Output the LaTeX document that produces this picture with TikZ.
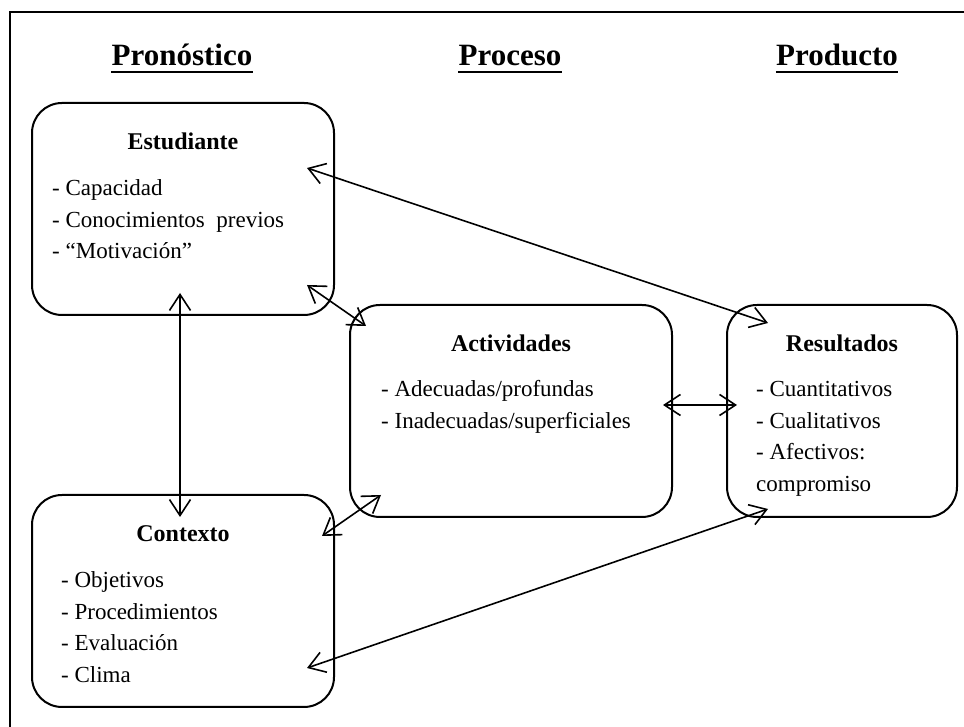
\documentclass[tikz,border=0pt]{standalone}
\usepackage{fontspec}
\setmainfont{Liberation Serif}
\usetikzlibrary{arrows.meta,positioning,calc}

\newcommand{\headfont}{\fontsize{31}{37}\selectfont\bfseries}
\newcommand{\titlefont}{\fontsize{24}{29}\selectfont\bfseries}
\newcommand{\itemfont}{\fontsize{23}{31}\selectfont}

\begin{document}
\begin{tikzpicture}[x=1pt,y=1pt,
  box/.style={draw, line width=2pt, rounded corners=30pt, inner sep=0pt, outer sep=0pt, minimum height=212pt},
  heading/.style={font=\headfont, inner sep=0pt, anchor=base},
  boxtitle/.style={font=\titlefont, inner sep=0pt, anchor=base},
  item/.style={font=\itemfont, inner sep=0pt, text height=17pt, text depth=14pt},
  uline/.style={line width=2.6pt},
  link/.style={line width=1.6pt, {Straight Barb[length=16pt,width=21pt]}-{Straight Barb[length=16pt,width=21pt]}}]
  \useasboundingbox (0,0) rectangle (964,727);
  % marco
  \draw[line width=2pt] (10,0) -- (10,715) -- (964,715);
  % encabezados
  \node[heading] (hpron) at (182,661) {Pronóstico};
  \node[heading] (hproc) at (510,661) {Proceso};
  \node[heading] (hprod) at (837,661) {Producto};
  \draw[uline] ([yshift=-6pt]hpron.base west) -- ([yshift=-6pt]hpron.base east);
  \draw[uline] ([yshift=-6pt]hproc.base west) -- ([yshift=-6pt]hproc.base east);
  \draw[uline] ([yshift=-6pt]hprod.base west) -- ([yshift=-6pt]hprod.base east);
  % cajas
  \node[box, minimum width=302pt] (est) at (183,518) {};
  \node[box, minimum width=302pt, below=180pt of est] (ctx) {};
  \node[box, minimum width=322pt] (act) at (511,316) {};
  \node[box, minimum width=230pt, right=55pt of act] (res) {};
  % Estudiante
  \node[boxtitle] (est-t) at ([yshift=-47pt]est.north) {Estudiante};
  \node[item, anchor=base west] (est-1) at ($(est.west |- est-t.base)+(20,-46)$) {- Capacidad};
  \node[item, below=0pt of est-1.south west, anchor=north west] (est-2) {- Conocimientos\ \ previos};
  \node[item, below=0pt of est-2.south west, anchor=north west] (est-3) {- ``Motivación''};
  % Contexto
  \node[boxtitle] (ctx-t) at ([yshift=-47pt]ctx.north) {Contexto};
  \node[item, anchor=base west] (ctx-1) at ($(ctx.west |- ctx-t.base)+(29,-46)$) {- Objetivos};
  \node[item, below=0pt of ctx-1.south west, anchor=north west] (ctx-2) {- Procedimientos};
  \node[item, below=0pt of ctx-2.south west, anchor=north west] (ctx-3) {- Evaluación};
  \node[item, below=0pt of ctx-3.south west, anchor=north west] (ctx-4) {- Clima};
  % Actividades
  \node[boxtitle] (act-t) at ([yshift=-47pt]act.north) {Actividades};
  \node[item, anchor=base west] (act-1) at ($(act.west |- act-t.base)+(31,-45)$) {- Adecuadas/profundas};
  \node[item, below=0pt of act-1.south west, anchor=north west] (act-2) {- Inadecuadas/superficiales};
  % Resultados
  \node[boxtitle] (res-t) at ([yshift=-47pt]res.north) {Resultados};
  \node[item, anchor=base west] (res-1) at ($(res.west |- res-t.base)+(29,-45)$) {- Cuantitativos};
  \node[item, below=0pt of res-1.south west, anchor=north west] (res-2) {- Cualitativos};
  \node[item, below=0pt of res-2.south west, anchor=north west] (res-3) {- Afectivos:};
  \node[item, below=0pt of res-3.south west, anchor=north west] (res-4) {compromiso};
  % flechas
  \draw[link] ([shift={(-27,41)}]est.east) -- ([shift={(41,88)}]res.west);
  \draw[link] ([shift={(-27,-76)}]est.east) -- ([shift={(16,85)}]act.west);
  \draw[link] ([shift={(-3,22)}]est.south) -- ([shift={(-3,-22)}]ctx.north);
  \draw[link] ([shift={(-12,65)}]ctx.east) -- ([shift={(31,-84)}]act.west);
  \draw[link] ([shift={(-27,-67)}]ctx.east) -- ([shift={(41,-98)}]res.west);
  \draw[link] ([shift={(-9,6)}]act.east) -- ([shift={(10,6)}]res.west);
\end{tikzpicture}
\end{document}
